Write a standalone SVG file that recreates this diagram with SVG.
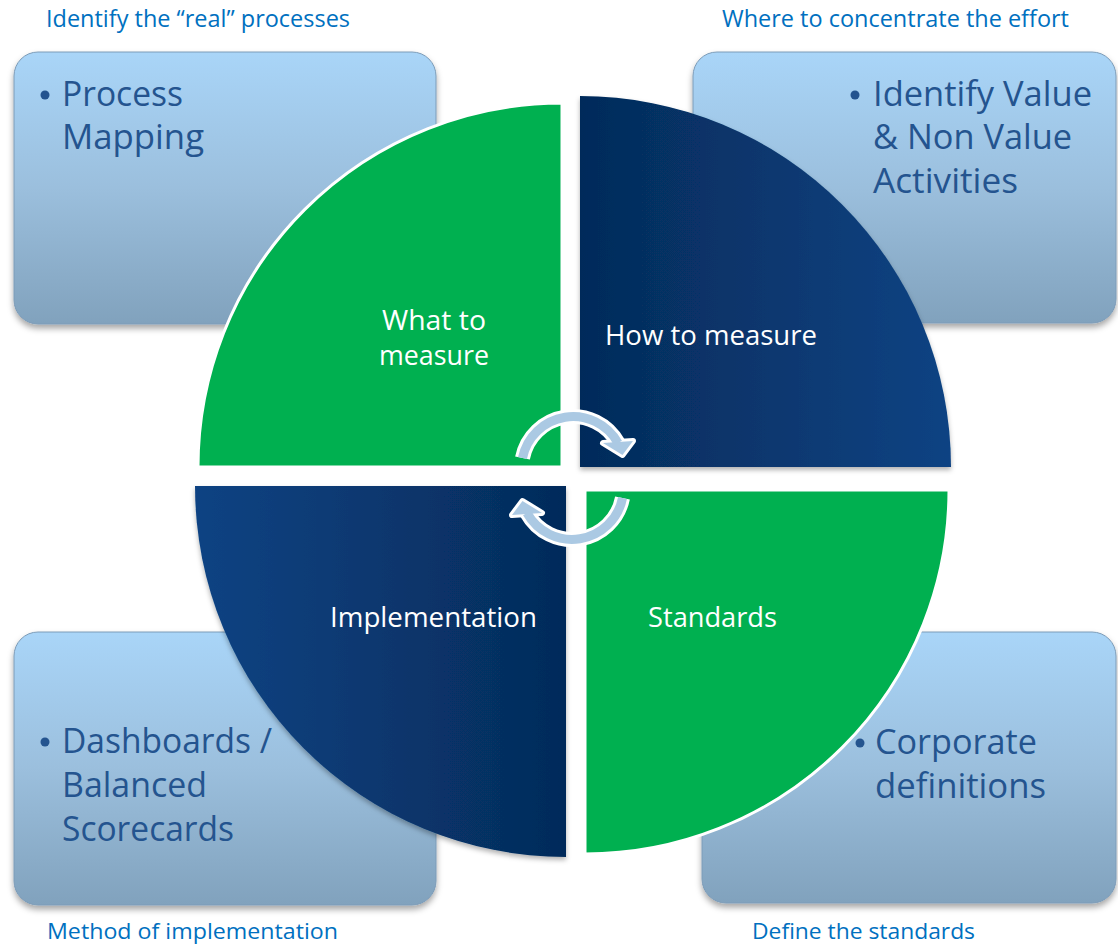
<svg xmlns="http://www.w3.org/2000/svg" xmlns:xlink="http://www.w3.org/1999/xlink" width="1118" height="946" viewBox="0 0 1118 946">
  <style>
    .box { fill: url(#boxGrad); stroke: #7d9cb8; stroke-width: 1; filter: url(#boxShadow); }
    .btxt { font-family: "Open Sans", "Liberation Sans", sans-serif; font-size: 34px; fill: #24548f; }
    .bullet { fill: #24548f; }
    .qtxt { font-family: "Open Sans", "Liberation Sans", sans-serif; font-size: 27.5px; fill: #ffffff; }
    .cap { font-family: "Open Sans", "Liberation Sans", sans-serif; font-size: 23px; fill: #0070c0; }
    .capb { font-family: "Open Sans", "Liberation Sans", sans-serif; font-size: 22px; fill: #0070c0; }
    .green { fill: #00b050; stroke: #ffffff; stroke-width: 3; }
    .navy { filter: url(#navyShadow); }
  </style>
  <defs>
    <linearGradient id="boxGrad" x1="0" y1="0" x2="0" y2="1">
      <stop offset="0" stop-color="#a9d5f8"/>
      <stop offset="0.5" stop-color="#9bbfdd"/>
      <stop offset="1" stop-color="#81a2bd"/>
    </linearGradient>
    <linearGradient id="navyR" x1="0" y1="0" x2="1" y2="0">
      <stop offset="0" stop-color="#052b5a"/>
      <stop offset="1" stop-color="#0b4383"/>
    </linearGradient>
    <linearGradient id="navyL" x1="0" y1="0" x2="1" y2="0">
      <stop offset="0" stop-color="#0b4383"/>
      <stop offset="1" stop-color="#052b5a"/>
    </linearGradient>
    <filter id="boxShadow" x="-10%" y="-10%" width="120%" height="125%">
      <feDropShadow dx="0" dy="4" stdDeviation="3" flood-color="#000000" flood-opacity="0.35"/>
    </filter>
    <filter id="navyShadow" x="-10%" y="-10%" width="120%" height="120%">
      <feDropShadow dx="0" dy="3" stdDeviation="2.5" flood-color="#000000" flood-opacity="0.3"/>
    </filter>
    <g id="cycArrow">
      <path d="M522.5,458 A51.5,51.5 0 0 1 618,443" fill="none" stroke="#ffffff" stroke-width="15"/>
      <polygon points="603,443 633,441 622.5,455" fill="#ffffff" stroke="#ffffff" stroke-width="6" stroke-linejoin="round"/>
      <path d="M522.5,458 A51.5,51.5 0 0 1 618,443" fill="none" stroke="#abc9e3" stroke-width="9"/>
      <polygon points="603,443 633,441 622.5,455" fill="#abc9e3"/>
    </g>
  </defs>

  <rect width="1118" height="946" fill="#ffffff"/>

  <!-- Boxes -->
  <g id="box-process-mapping">
    <rect class="box" x="14" y="52" width="422" height="272" rx="24"/>
    <circle class="bullet" cx="45" cy="95" r="4.5"/>
    <text class="btxt" x="62" y="106" textLength="121" lengthAdjust="spacingAndGlyphs">Process</text>
    <text class="btxt" x="62" y="149" textLength="142" lengthAdjust="spacingAndGlyphs">Mapping</text>
  </g>
  <g id="box-identify-value">
    <rect class="box" x="693" y="52" width="423" height="271" rx="24"/>
    <circle class="bullet" cx="855" cy="95" r="4.5"/>
    <text class="btxt" x="873" y="105.5" textLength="219" lengthAdjust="spacingAndGlyphs">Identify Value</text>
    <text class="btxt" x="873" y="149" textLength="199" lengthAdjust="spacingAndGlyphs">&amp; Non Value</text>
    <text class="btxt" x="873" y="192.5" textLength="145" lengthAdjust="spacingAndGlyphs">Activities</text>
  </g>
  <g id="box-dashboards">
    <rect class="box" x="14" y="632" width="422" height="273" rx="24"/>
    <circle class="bullet" cx="45" cy="742" r="4.5"/>
    <text class="btxt" x="62" y="753" textLength="210" lengthAdjust="spacingAndGlyphs">Dashboards /</text>
    <text class="btxt" x="62" y="797" textLength="145" lengthAdjust="spacingAndGlyphs">Balanced</text>
    <text class="btxt" x="62" y="841" textLength="172" lengthAdjust="spacingAndGlyphs">Scorecards</text>
  </g>
  <g id="box-corporate-definitions">
    <rect class="box" x="702" y="632" width="414" height="271" rx="24"/>
    <circle class="bullet" cx="860" cy="743" r="4.5"/>
    <text class="btxt" x="875" y="754" textLength="162" lengthAdjust="spacingAndGlyphs">Corporate</text>
    <text class="btxt" x="875" y="798" textLength="171" lengthAdjust="spacingAndGlyphs">definitions</text>
  </g>

  <!-- Quadrants -->
  <g id="q-what-to-measure">
    <path class="green" d="M562,467 L198,467 A364,364 0 0 1 562,103 Z"/>
    <text class="qtxt" x="382" y="330" textLength="104" lengthAdjust="spacingAndGlyphs">What to</text>
    <text class="qtxt" x="379" y="365" textLength="110" lengthAdjust="spacingAndGlyphs">measure</text>
  </g>
  <g id="q-how-to-measure">
    <path class="navy" fill="url(#navyR)" d="M580,467 L580,96 A371,371 0 0 1 951,467 Z"/>
    <text class="qtxt" x="605" y="345" textLength="212" lengthAdjust="spacingAndGlyphs">How to measure</text>
  </g>
  <g id="q-implementation">
    <path class="navy" fill="url(#navyL)" d="M566,486 L566,857 A371,371 0 0 1 195,486 Z"/>
    <text class="qtxt" x="330" y="627" textLength="207" lengthAdjust="spacingAndGlyphs">Implementation</text>
  </g>
  <g id="q-standards">
    <path class="green" d="M585,490 L949,490 A364,364 0 0 1 585,854 Z"/>
    <text class="qtxt" x="648" y="627" textLength="129" lengthAdjust="spacingAndGlyphs">Standards</text>
  </g>

  <!-- Connectors: cycle arrows -->
  <g id="connectors">
    <use xlink:href="#cycArrow" href="#cycArrow"/>
    <use xlink:href="#cycArrow" href="#cycArrow" transform="rotate(180 572.5 478)"/>
  </g>

  <!-- Captions -->
  <g id="captions">
    <text class="cap" x="46" y="27" textLength="304" lengthAdjust="spacingAndGlyphs">Identify the “real” processes</text>
    <text class="cap" x="722" y="27" textLength="347" lengthAdjust="spacingAndGlyphs">Where to concentrate the effort</text>
    <text class="capb" x="47" y="939" textLength="291" lengthAdjust="spacingAndGlyphs">Method of implementation</text>
    <text class="capb" x="752" y="939" textLength="223" lengthAdjust="spacingAndGlyphs">Define the standards</text>
  </g>
</svg>
